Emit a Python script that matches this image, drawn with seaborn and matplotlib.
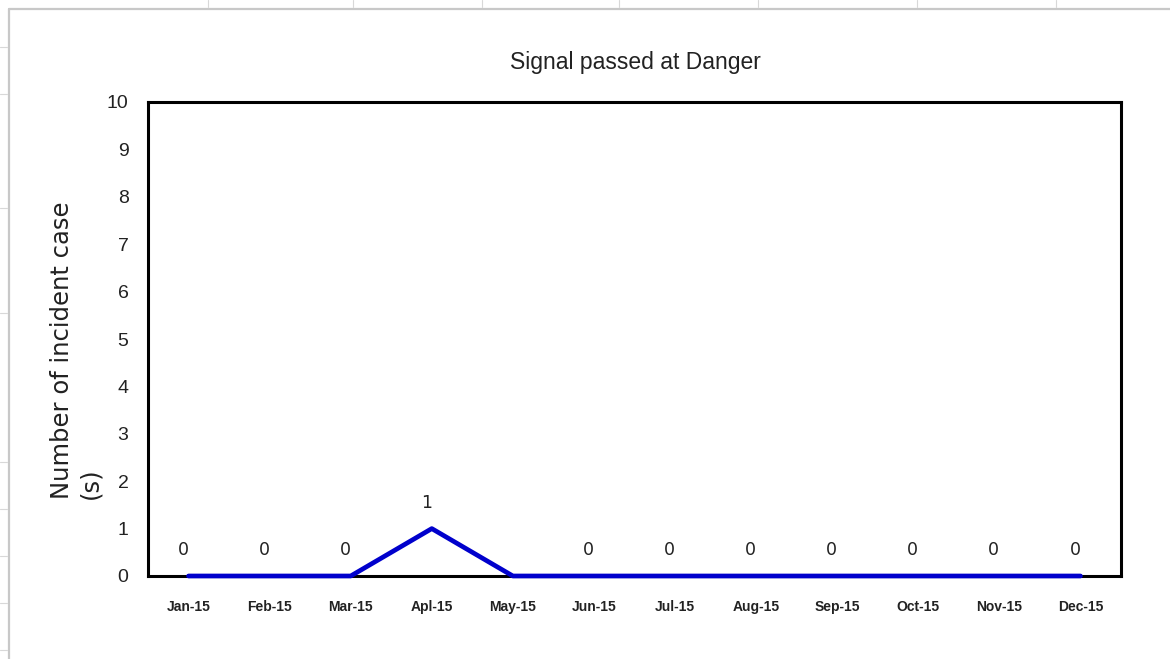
"""Signal passed at Danger: monthly incident count line chart."""

import matplotlib

matplotlib.use("Agg")
import matplotlib.pyplot as plt
import pandas as pd
import seaborn as sns
from matplotlib.lines import Line2D

months = ["Jan-15", "Feb-15", "Mar-15", "Apl-15", "May-15", "Jun-15",
          "Jul-15", "Aug-15", "Sep-15", "Oct-15", "Nov-15", "Dec-15"]
incidents = [0, 0, 0, 1, 0, 0, 0, 0, 0, 0, 0, 0]
# the source chart shows no data label on May-15
labelled = [True, True, True, True, False, True, True, True, True, True, True, True]
y_ticks = list(range(0, 11))

TITLE = "Signal passed at Danger"
Y_LABEL = "Number of incident case\n(s)"
LINE_COLOR = "#0000CC"


def draw_sheet_frame(fig: plt.Figure) -> None:
    """Light grey spreadsheet edges visible around the chart object."""
    w, h = fig.get_size_inches() * fig.dpi
    grey = "#C8C8C8"
    fig.add_artist(Line2D([8.5 / w, 8.5 / w], [0, 1 - 8.5 / h], color=grey, lw=1.6))
    fig.add_artist(Line2D([8.5 / w, 1], [1 - 8.5 / h, 1 - 8.5 / h], color=grey, lw=1.6))
    for yy in (47, 94, 208, 313, 462, 509, 556, 603, 650):
        fig.add_artist(Line2D([0, 7 / w], [1 - yy / h, 1 - yy / h], color="#D8D8D8", lw=0.8))
    for xx in (208, 353, 482, 619, 758, 917, 1056):
        fig.add_artist(Line2D([xx / w, xx / w], [1, 1 - 7 / h], color="#D8D8D8", lw=0.8))


def main() -> None:
    sns.set_theme(style="white")
    plt.rcParams["font.family"] = ["Liberation Sans", "DejaVu Sans"]

    df = pd.DataFrame({"month": months, "count": incidents})

    fig = plt.figure(figsize=(11.7, 6.59), dpi=100)
    ax = fig.add_axes([148 / 1170, 1 - 576 / 659, (1121 - 148) / 1170, (576 - 102) / 659])

    sns.lineplot(data=df, x="month", y="count", sort=False, color=LINE_COLOR,
                 linewidth=3.4, ax=ax, zorder=5, clip_on=False)

    for i, (value, show) in enumerate(zip(incidents, labelled)):
        if not show:
            continue
        ax.annotate(str(value), (i, value), xytext=(-4, 12), textcoords="offset points",
                    ha="center", va="bottom", fontsize=12.5, color="#222222",
                    family=["DejaVu Sans"])

    ax.set_xlim(-0.5, len(months) - 0.5)
    ax.set_ylim(0, 10)
    ax.set_yticks(y_ticks)
    ax.set_yticklabels([str(t) for t in y_ticks], fontsize=14, color="#222222")
    ax.set_xticks(range(len(months)))
    ax.set_xticklabels(months, fontsize=10, fontweight="bold", color="#222222")
    ax.tick_params(axis="both", length=0)
    ax.tick_params(axis="y", pad=14)
    ax.tick_params(axis="x", pad=17)
    ax.set_xlabel("")
    ax.set_ylabel("")

    for spine in ax.spines.values():
        spine.set_visible(True)
        spine.set_color("black")
        spine.set_linewidth(2.2)

    fig.text(635 / 1170, 1 - 62 / 659, TITLE, ha="center", va="center", fontsize=16.5,
             color="#222222")
    fig.text(76 / 1170, 1 - 499 / 659, Y_LABEL, rotation=90, ha="center", va="bottom",
             multialignment="left", fontsize=17.5, color="#222222",
             family=["DejaVu Sans"], linespacing=1.2)

    draw_sheet_frame(fig)

    fig.savefig("out.png", dpi=100, facecolor="white")
    plt.close(fig)


if __name__ == "__main__":
    main()
